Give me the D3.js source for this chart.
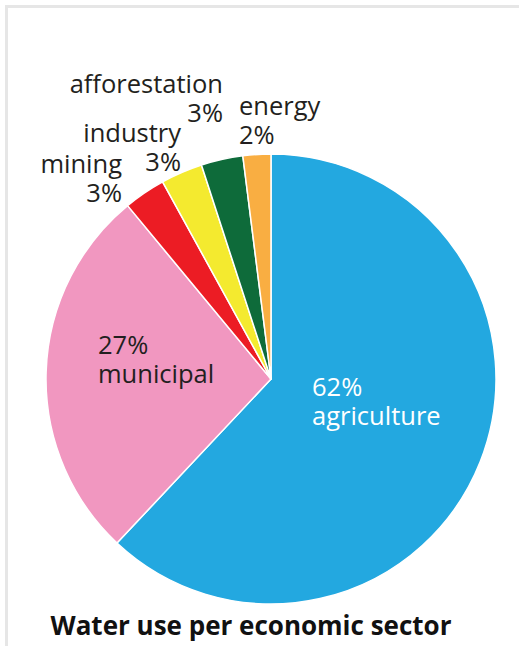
<!DOCTYPE html>
<html><head><meta charset="utf-8">
<script src="https://cdn.jsdelivr.net/npm/d3@7"></script>
<style>
html,body{margin:0;padding:0;background:#fff;}
svg{display:block;}
text{font-family:"Open Sans",sans-serif;}
</style></head>
<body>
<svg id="chart" width="519" height="646"></svg>
<script>
const categories = ["agriculture","municipal","mining","industry","afforestation","energy"];
const values = [62, 27, 3, 3, 3, 2];
const colors = ["#23a8e0","#f197c0","#ec1c24","#f4ea2f","#0e6b3a","#f9ae42"];
const title = "Water use per economic sector";

const W = 519, H = 646;
const cx = 271, cy = 379, R = 225;
const svg = d3.select("#chart");

// frame
svg.append("path").attr("d", `M6.5,${H} V6.5 H${W}`).attr("fill","none")
  .attr("stroke","#e6e6e6").attr("stroke-width",3);

const data = categories.map((c,i)=>({cat:c, value:values[i], color:colors[i]}));
const pie = d3.pie().value(d=>d.value).sort(null);
const arc = d3.arc().innerRadius(0).outerRadius(R);
const arcs = pie(data);

const g = svg.append("g").attr("transform",`translate(${cx},${cy})`);
g.selectAll("path.slice").data(arcs).join("path")
  .attr("class","slice")
  .attr("d",arc)
  .attr("fill",d=>d.data.color)
  .attr("stroke","#fff").attr("stroke-width",1.5).attr("stroke-linejoin","round");

// label layout (positions relative to chart, not data)
const labelLayout = {
  agriculture:  {x:312, y:396, anchor:"start", pctFirst:true,  color:"#fff"},
  municipal:    {x:98,  y:354, anchor:"start", pctFirst:true,  color:"#231f20"},
  mining:       {x:122, y:173, anchor:"end",   pctFirst:false, color:"#231f20"},
  industry:     {x:181, y:142, anchor:"end",   pctFirst:false, color:"#231f20"},
  afforestation:{x:223, y:93,  anchor:"end",   pctFirst:false, color:"#231f20"},
  energy:       {x:239, y:115, anchor:"start", pctFirst:false, color:"#231f20"}
};
const lineH = 28.5;
arcs.forEach(a=>{
  const L = labelLayout[a.data.cat];
  const pct = a.data.value + "%";
  const lines = L.pctFirst ? [pct, a.data.cat] : [a.data.cat, pct];
  const t = svg.append("text").attr("text-anchor",L.anchor)
    .attr("fill",L.color).style("font-size","25.5px");
  lines.forEach((s,i)=>{
    t.append("tspan").attr("x",L.x).attr("y",L.y + i*lineH).text(s);
  });
});

svg.append("text").attr("x",251).attr("y",635).attr("text-anchor","middle")
  .style("font-size","26px").style("font-weight","700").attr("fill","#111")
  .text(title);
</script>
</body></html>
